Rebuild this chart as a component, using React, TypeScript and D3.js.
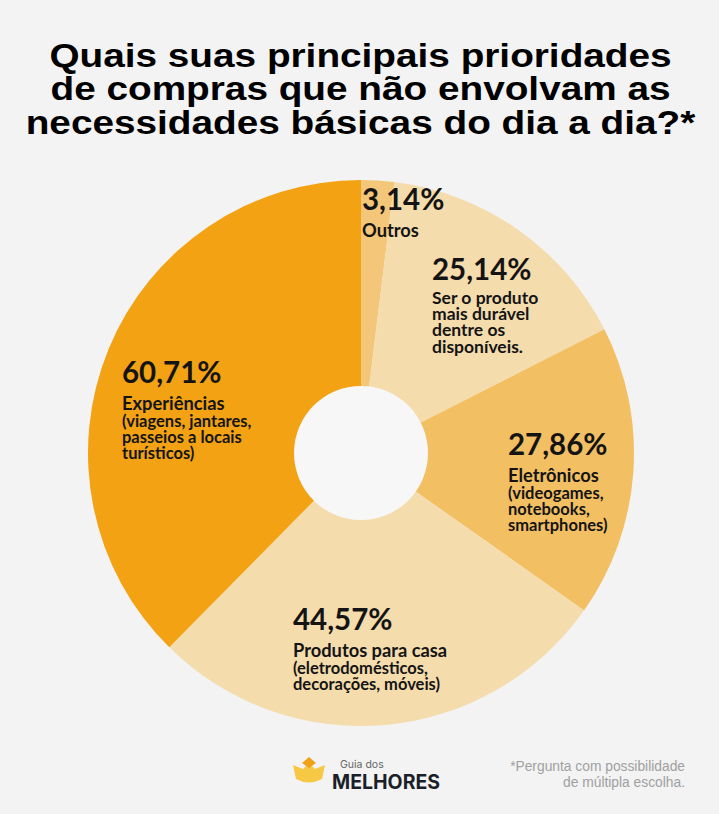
import { useMemo } from 'react';
import * as d3 from 'd3';

const TITLE_LINES = [
  'Quais suas principais prioridades',
  'de compras que não envolvam as',
  'necessidades básicas do dia a dia?*',
];

const CATEGORIES = ['Outros', 'Ser o produto', 'Eletrônicos', 'Produtos para casa', 'Experiências'];
const VALUES = [3.14, 25.14, 27.86, 44.57, 60.71];
const PCT_LABELS = ['3,14%', '25,14%', '27,86%', '44,57%', '60,71%'];
// first line of each caption is the heading, the rest the detail lines
const CAPTIONS: string[][] = [
  ['Outros'],
  ['Ser o produto', 'mais durável', 'dentre os', 'disponíveis.'],
  ['Eletrônicos', '(videogames,', 'notebooks,', 'smartphones)'],
  ['Produtos para casa', '(eletrodomésticos,', 'decorações, móveis)'],
  ['Experiências', '(viagens, jantares,', 'passeios a locais', 'turísticos)'],
];

const COLORS = ['#f4c67a', '#f5dcac', '#f3bf63', '#f5dcac', '#f2a213'];
// baseline of the percentage text, left aligned
const LABEL_POS: [number, number][] = [
  [362, 210],
  [432, 280],
  [508, 455],
  [293, 630],
  [122, 383],
];

const W = 719;
const H = 814;
const CX = 361;
const CY = 453;
const R_OUT = 273;
const R_IN = 67;

const LABEL_FONT = 'Lato, "Open Sans", sans-serif';

export default function App() {
  const arcs = useMemo(() => d3.pie<number>().value(d => d).sort(null)(VALUES), []);
  const arc = d3.arc<d3.PieArcDatum<number>>().innerRadius(0).outerRadius(R_OUT);

  return (
    <svg
      width={W}
      height={H}
      viewBox={`0 0 ${W} ${H}`}
      style={{ position: 'absolute', left: 0, top: 0, display: 'block' }}
    >
      <rect width={W} height={H} fill="#f3f3f3" />

      <g
        transform={`translate(${W / 2 + 1},0) scale(1.14,1)`}
        fontFamily='"Liberation Sans", Arial, sans-serif'
        fontWeight="bold"
        fontSize={34}
        fill="#000"
        textAnchor="middle"
      >
        {TITLE_LINES.map((t, i) => (
          <text key={t} x={0} y={67 + i * 33.5}>{t}</text>
        ))}
      </g>

      <g transform={`translate(${CX},${CY})`}>
        {arcs.map((d, i) => (
          <path key={CATEGORIES[i]} d={arc(d) ?? ''} fill={COLORS[i]} />
        ))}
        <circle r={R_IN} fill="#f7f7f7" />
      </g>

      <g fontFamily={LABEL_FONT} fill="#141414" fontWeight="bold">
        {PCT_LABELS.map((p, i) => {
          const [x, y] = LABEL_POS[i];
          const lines = CAPTIONS[i];
          const uniform = i === 1;
          return (
            <g key={p}>
              <text x={x} y={y} fontSize={29.5}>{p}</text>
              {lines.map((l, j) => {
                const ly = uniform
                  ? y + 24 + j * 16.2
                  : y + 27 + (j > 0 ? 16.5 + (j - 1) * 16 : 0);
                return (
                  <text key={l} x={x} y={ly} fontSize={uniform ? 17.5 : j === 0 ? 18.3 : 16.5}>
                    {l}
                  </text>
                );
              })}
            </g>
          );
        })}
      </g>

      <g>
        <path d="M293,765 L303,769 L309,763 L315,769 L325,765 L322,779 Q309,786 296,779 Z" fill="#f7c843" />
        <path d="M309,757 L316,763 L309,768 L302,763 Z" fill="#f0a21a" />
        <text x={340} y={768} fontFamily="Inter, Roboto, sans-serif" fontSize={10.5} fill="#666">Guia dos</text>
        <text x={332} y={789} fontFamily="Inter, Roboto, sans-serif" fontSize={19.5} fontWeight="bold" fill="#1b1f2a">MELHORES</text>
      </g>

      <g fontFamily='"Liberation Sans", Arial, sans-serif' fontSize={13.8} fill="#a0a0a0" textAnchor="end">
        <text x={685} y={771}>*Pergunta com possibilidade</text>
        <text x={685} y={787}>de múltipla escolha.</text>
      </g>
    </svg>
  );
}
